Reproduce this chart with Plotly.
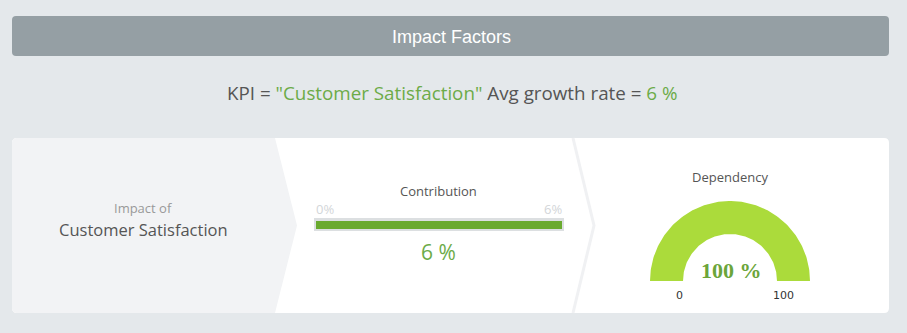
import plotly.graph_objects as go
import numpy as np

# ---- data ----
title_text = "Impact Factors"
kpi_name = "Customer Satisfaction"
avg_growth_rate = 6          # %
contribution = 6             # %
contribution_range = [0, 6]  # %
dependency = 100             # %
dependency_range = [0, 100]

W, H = 907, 333
BG = "#E4E8EB"
GREEN_TXT = "#6CAB48"
DARK = "#555555"

fig = go.Figure()

# ---- gauge (Dependency) drawn on pixel axes from the value ----
cx, cy, R_out, R_in = 730, 281, 80, 47
frac = (dependency - dependency_range[0]) / (dependency_range[1] - dependency_range[0])
theta = np.linspace(np.pi, np.pi - np.pi * frac, 120)
gx = np.concatenate([cx + R_out * np.cos(theta), cx + R_in * np.cos(theta[::-1])])
gy = np.concatenate([cy - R_out * np.sin(theta), cy - R_in * np.sin(theta[::-1])])
fig.add_trace(go.Scatter(x=gx, y=gy, mode="lines", fill="toself",
                         fillcolor="#ABDB3B", line=dict(width=0, color="#ABDB3B"),
                         hoverinfo="skip", xaxis="x", yaxis="y"))

# ---- contribution bar ----
fig.add_trace(go.Bar(x=[contribution], y=[0], orientation="h", width=1,
                     marker=dict(color="#6AAA2F", line=dict(width=0)),
                     hoverinfo="skip", xaxis="x2", yaxis="y2"))


def rrect(x0, y0, x1, y1, r):
    return (f"M {x0+r},{y0} L {x1-r},{y0} Q {x1},{y0} {x1},{y0+r} "
            f"L {x1},{y1-r} Q {x1},{y1} {x1-r},{y1} L {x0+r},{y1} "
            f"Q {x0},{y1} {x0},{y1-r} L {x0},{y0+r} Q {x0},{y0} {x0+r},{y0} Z")


shapes = [
    # header bar
    dict(type="path", path=rrect(12, 16, 889, 56, 4), fillcolor="#959FA4",
         line=dict(width=0), layer="below"),
    # white card
    dict(type="path", path=rrect(12, 138, 889, 313, 5), fillcolor="#FFFFFF",
         line=dict(width=0), layer="below"),
    # left grey chevron panel
    dict(type="path",
         path="M 17,138 L 275,138 L 297,225.5 L 275,313 L 17,313 Q 12,313 12,308 L 12,143 Q 12,138 17,138 Z",
         fillcolor="#F2F3F5", line=dict(width=0), layer="below"),
    # second chevron separator
    dict(type="path", path="M 573,138 L 594,225.5 L 573,313",
         line=dict(width=3, color="#F0F1F3"), layer="below"),
    # bar track
    dict(type="rect", x0=314, x1=564, y0=218, y1=231, fillcolor="#DCDFE1",
         line=dict(width=0), layer="below"),
]

F = "Open Sans"
ann = [
    dict(x=451, y=37, text=title_text, font=dict(family="Liberation Sans", size=18, color="white")),
    dict(x=452, y=93,
         text=(f'KPI = <span style="color:{GREEN_TXT}">"{kpi_name}"</span> '
               f'Avg growth rate = <span style="color:{GREEN_TXT}">{avg_growth_rate} %</span>'),
         font=dict(family=F, size=18.8, color=DARK)),
    dict(x=143, y=208, text="Impact of", font=dict(family=F, size=13, color="#999999")),
    dict(x=143, y=229, text=kpi_name, font=dict(family=F, size=16.5, color=DARK)),
    dict(x=438, y=191, text="Contribution", font=dict(family=F, size=13, color=DARK)),
    dict(x=contribution_range[0], xref="x2", y=209, xanchor="left", xshift=-2,
         text=f"{contribution_range[0]}%", font=dict(family=F, size=13, color="#D3D6D9")),
    dict(x=contribution_range[1], xref="x2", y=209, xanchor="right", xshift=2,
         text=f"{contribution_range[1]}%", font=dict(family=F, size=13, color="#D3D6D9")),
    dict(x=438, y=252, text=f"{contribution} %", font=dict(family=F, size=21, color=GREEN_TXT)),
    dict(x=730, y=177, text="Dependency", font=dict(family=F, size=13, color=DARK)),
    dict(x=731, y=270, text=f"<b>{dependency} %</b>",
         font=dict(family="Liberation Serif", size=22, color="#6BA53A")),
    dict(x=679, y=295, text=str(dependency_range[0]),
         font=dict(family="DejaVu Sans", size=11, color="#333333")),
    dict(x=783, y=295, text=str(dependency_range[1]),
         font=dict(family="DejaVu Sans", size=11, color="#333333")),
]
for a in ann:
    a.setdefault("xref", "x")
    a.setdefault("yref", "y")
    a.setdefault("xanchor", "center")
    a["yanchor"] = "middle"
    a["showarrow"] = False

fig.update_layout(
    width=W, height=H, margin=dict(l=0, r=0, t=0, b=0),
    paper_bgcolor=BG, plot_bgcolor="rgba(0,0,0,0)", showlegend=False,
    xaxis=dict(range=[0, W], visible=False, fixedrange=True, domain=[0, 1]),
    yaxis=dict(range=[H, 0], visible=False, fixedrange=True, domain=[0, 1]),
    xaxis2=dict(range=contribution_range, visible=False, fixedrange=True,
                domain=[316 / W, 562 / W], anchor="y2"),
    yaxis2=dict(range=[-0.5, 0.5], visible=False, fixedrange=True,
                domain=[1 - 229 / H, 1 - 221 / H], anchor="x2"),
    shapes=shapes, annotations=ann,
)

fig.write_html("out.html", config={"displayModeBar": False})
